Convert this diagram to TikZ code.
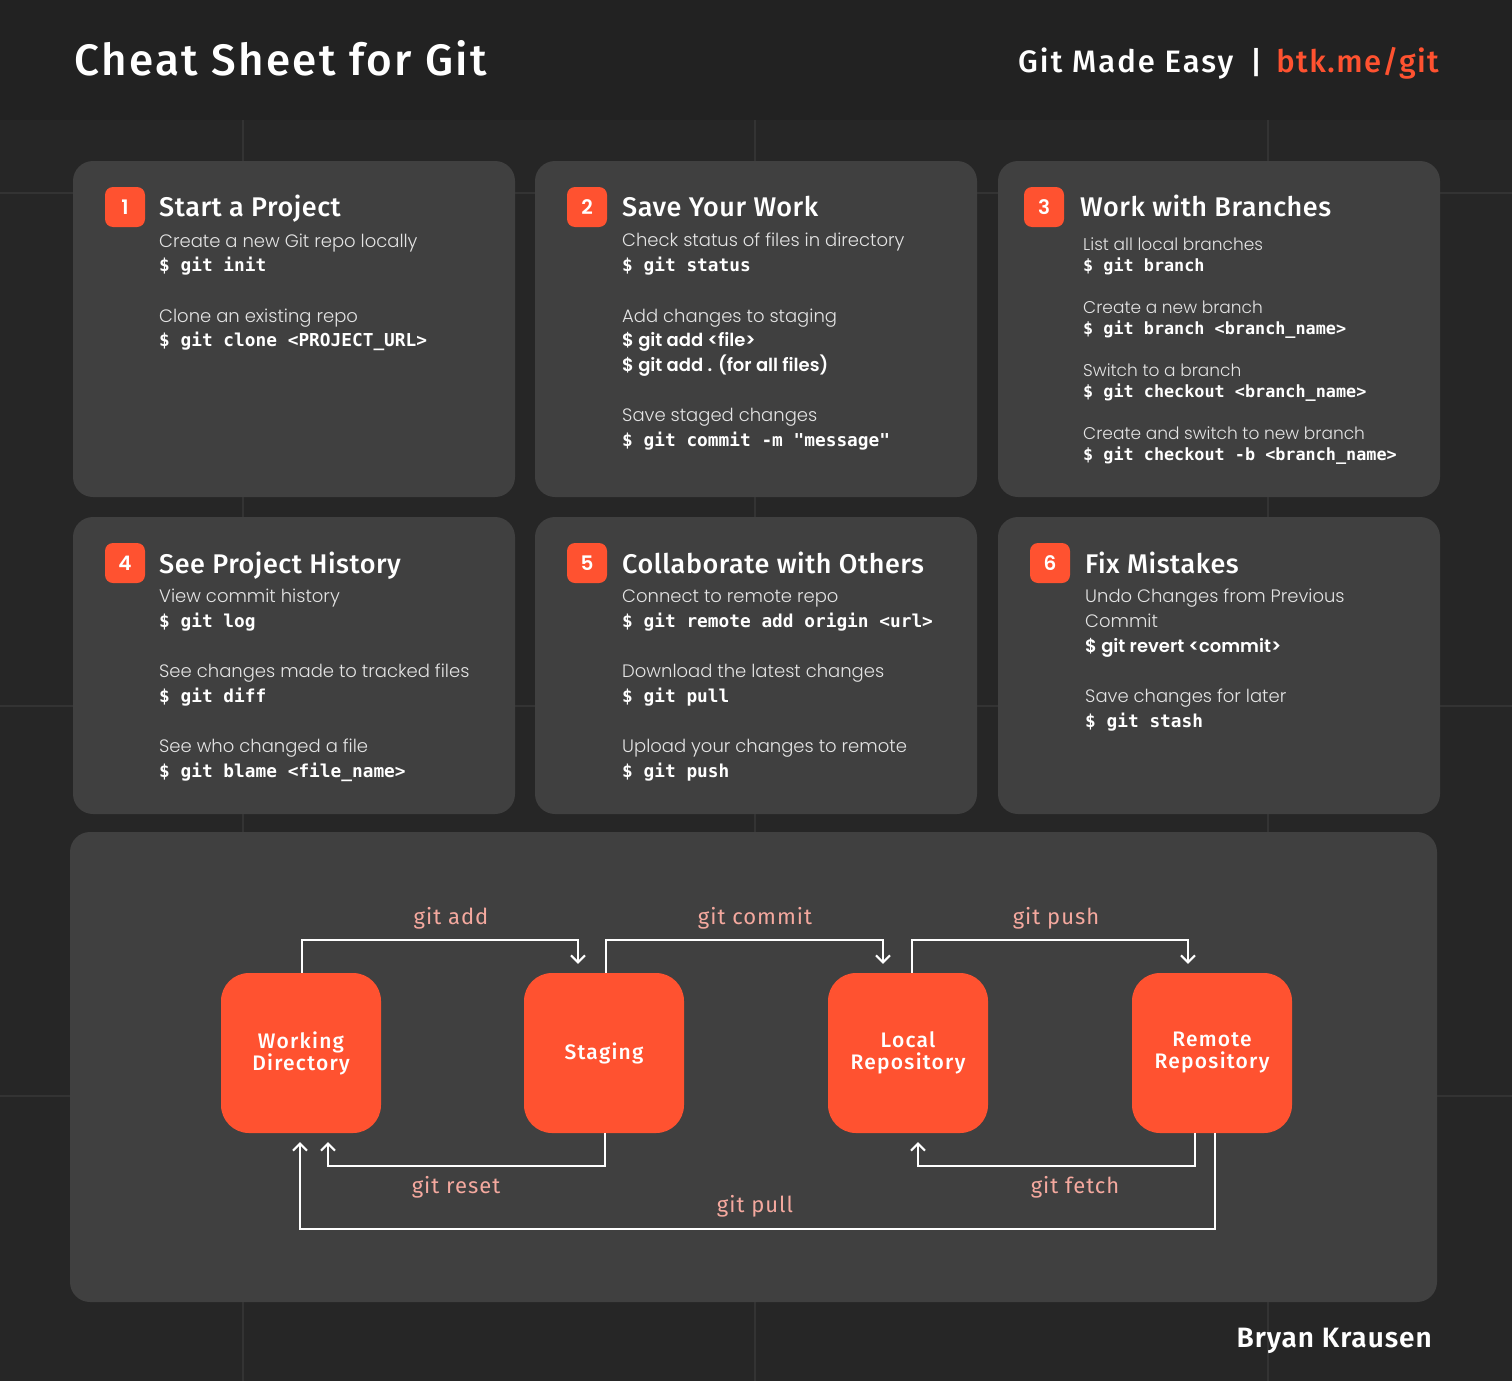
\documentclass[tikz,border=0pt]{standalone}
\usepackage{fontspec}
\usetikzlibrary{arrows.meta}
\IfFontExistsTF{Poppins Light}{\newfontfamily\descfont{Poppins Light}}{\newfontfamily\descfont{Poppins}}
\IfFontExistsTF{Poppins SemiBold}{\newfontfamily\sbfont{Poppins SemiBold}}{\newfontfamily\sbfont{Poppins}[FakeBold=1.2]}
\IfFontExistsTF{Fira Sans Medium}{%
  \newfontfamily\hfontA{Fira Sans Medium}[LetterSpace=4.5]%
  \newfontfamily\hfontM{Fira Sans Medium}[LetterSpace=5.4]%
  \newfontfamily\hfontG{Fira Sans Medium}[LetterSpace=6.5]%
  \newfontfamily\hfontT{Fira Sans Medium}[LetterSpace=2]%
  \newfontfamily\hfontB{Fira Sans Medium}[LetterSpace=6]}{%
  \newfontfamily\hfontA{Fira Sans}[LetterSpace=4.5]%
  \newfontfamily\hfontM{Fira Sans}[LetterSpace=5.4]%
  \newfontfamily\hfontG{Fira Sans}[LetterSpace=6.5]%
  \newfontfamily\hfontT{Fira Sans}[LetterSpace=2]%
  \newfontfamily\hfontB{Fira Sans}[LetterSpace=6]}
\IfFontExistsTF{Fira Sans SemiBold}{\newfontfamily\sigfont{Fira Sans SemiBold}[LetterSpace=3.5]}{\newfontfamily\sigfont{Fira Sans}[FakeBold=1,LetterSpace=3.5]}
\newfontfamily\lfont{Fira Sans}[LetterSpace=4.5]
\newfontfamily\codefont{DejaVu Sans Mono}
\definecolor{hdrbg}{HTML}{222222}
\definecolor{pagebg}{HTML}{262626}
\definecolor{gridc}{HTML}{333333}
\definecolor{cardbg}{HTML}{404040}
\definecolor{brand}{HTML}{FF5230}
\definecolor{salmon}{HTML}{F5A99F}
\definecolor{descc}{HTML}{E4E4E4}
\begin{document}
\begin{tikzpicture}[x=1pt,y=-1pt,
  card/.style={fill=cardbg, rounded corners=20pt},
  gridline/.style={draw=gridc, line width=1.5pt},
  badge/.style={fill=brand, rounded corners=8pt, minimum width=40pt, minimum height=40pt, inner sep=0pt, text=white, font=\sbfont\fontsize{20}{20}\selectfont},
  ttl/.style={anchor=base west, inner sep=0pt, text=white, font=\hfontT\fontsize{27}{30}\selectfont},
  desc/.style={anchor=base west, inner sep=0pt, text=descc, font=\descfont\fontsize{18}{22}\selectfont},
  descs/.style={desc, font=\descfont\fontsize{17}{20}\selectfont},
  code/.style={anchor=base west, inner sep=0pt, text=white, font=\codefont\bfseries\fontsize{17.8}{22}\selectfont},
  codes/.style={code, font=\codefont\bfseries\fontsize{16.8}{20}\selectfont},
  sbold/.style={anchor=base west, inner sep=0pt, text=white, font=\sbfont\fontsize{18}{22}\selectfont},
  repo/.style={fill=brand, rounded corners=28pt, minimum width=160pt, minimum height=160pt, inner sep=0pt, align=center, text=white, font=\hfontB\fontsize{21}{22}\selectfont},
  conn/.style={draw=white, line width=2pt, -{Straight Barb[length=7pt,width=14pt]}},
  lbl/.style={anchor=base, inner sep=0pt, text=salmon, font=\lfont\fontsize{22}{22}\selectfont},
  hdr/.style={inner sep=0pt, font=\hfontA\fontsize{31}{31}\selectfont}
]
\useasboundingbox (0,0) rectangle (1512,1381);
% background
\fill[pagebg] (0,0) rectangle (1512,1381);
\fill[hdrbg] (0,0) rectangle (1512,120);
% grid
\draw[gridline] (243,120) -- (243,1381);
\draw[gridline] (755,120) -- (755,1381);
\draw[gridline] (1268,120) -- (1268,1381);
\draw[gridline] (0,193) -- (1512,193);
\draw[gridline] (0,706) -- (1512,706);
\draw[gridline] (0,1096) -- (1512,1096);
% header
\node[anchor=base west, inner sep=0pt, text=white, font=\hfontM\fontsize{44}{44}\selectfont] (title) at (74,76) {Cheat Sheet for Git};
\node[hdr, anchor=base west, text=white, font=\hfontG\fontsize{31}{31}\selectfont] (gme) at (1018,72) {Git Made Easy};
\node[hdr, anchor=base, text=white] (bar) at (1256,74) {|};
\node[hdr, anchor=base east, text=brand] (url) at (1439,72) {btk.me/git};
% cards
\fill[card] (73,161) rectangle (515,497);
\fill[card] (535,161) rectangle (977,497);
\fill[card] (998,161) rectangle (1440,497);
\fill[card] (73,517) rectangle (515,814);
\fill[card] (535,517) rectangle (977,814);
\fill[card] (998,517) rectangle (1440,814);
% card 1
\node[badge] (b1) at (125,207) {1};
\node[ttl] (t1) at (159,216) {Start a Project};
\node[desc] (d1a) at (159,247) {Create a new Git repo locally};
\node[code] (c1a) at (159,271) {\$ git init};
\node[desc] (d1b) at (159,322) {Clone an existing repo};
\node[code] (c1b) at (159,346) {\$ git clone <PROJECT\_URL>};
% card 2
\node[badge] (b2) at (587,207) {2};
\node[ttl] (t2) at (622,216) {Save Your Work};
\node[desc] (d2a) at (622,246) {Check status of files in directory};
\node[code] (c2a) at (622,271) {\$ git status};
\node[desc] (d2b) at (622,322) {Add changes to staging};
\node[sbold] (s2a) at (622,346) {\$ git add <file>};
\node[sbold] (s2b) at (622,371) {\$ git add . (for all files)};
\node[desc] (d2c) at (622,421) {Save staged changes};
\node[code] (c2c) at (622,446) {\$ git commit -m "message"};
% card 3
\node[badge] (b3) at (1044,207) {3};
\node[ttl] (t3) at (1080,216) {Work with Branches};
\node[descs] (d3a) at (1083,250) {List all local branches};
\node[codes] (c3a) at (1083,271) {\$ git branch};
\node[descs] (d3b) at (1083,313) {Create a new branch};
\node[codes] (c3b) at (1083,334) {\$ git branch <branch\_name>};
\node[descs] (d3c) at (1083,376) {Switch to a branch};
\node[codes] (c3c) at (1083,397) {\$ git checkout <branch\_name>};
\node[descs] (d3d) at (1083,439) {Create and switch to new branch};
\node[codes] (c3d) at (1083,460) {\$ git checkout -b <branch\_name>};
% card 4
\node[badge] (b4) at (125,563) {4};
\node[ttl] (t4) at (159,573) {See Project History};
\node[desc] (d4a) at (159,602) {View commit history};
\node[code] (c4a) at (159,627) {\$ git log};
\node[desc] (d4b) at (159,677) {See changes made to tracked files};
\node[code] (c4b) at (159,702) {\$ git diff};
\node[desc] (d4c) at (159,752) {See who changed a file};
\node[code] (c4c) at (159,777) {\$ git blame <file\_name>};
% card 5
\node[badge] (b5) at (587,563) {5};
\node[ttl] (t5) at (622,573) {Collaborate with Others};
\node[desc] (d5a) at (622,602) {Connect to remote repo};
\node[code] (c5a) at (622,627) {\$ git remote add origin <url>};
\node[desc] (d5b) at (622,677) {Download the latest changes};
\node[code] (c5b) at (622,702) {\$ git pull};
\node[desc] (d5c) at (622,752) {Upload your changes to remote};
\node[code] (c5c) at (622,777) {\$ git push};
% card 6
\node[badge] (b6) at (1050,563) {6};
\node[ttl] (t6) at (1085,573) {Fix Mistakes};
\node[desc] (d6a) at (1085,602) {Undo Changes from Previous};
\node[desc] (d6b) at (1085,627) {Commit};
\node[sbold] (s6a) at (1085,652) {\$ git revert <commit>};
\node[desc] (d6c) at (1085,702) {Save changes for later};
\node[code] (c6a) at (1085,727) {\$ git stash};
% diagram panel
\fill[card] (70,832) rectangle (1437,1302);
\node[repo] (wd) at (301,1053) {Working\\Directory};
\node[repo] (st) at (604,1053) {Staging};
\node[repo] (lr) at (908,1053) {Local\\Repository};
\node[repo] (rr) at (1212,1053) {Remote\\Repository};
% connectors
\draw[conn] ([xshift=1pt]wd.north) |- ([xshift=-26pt,yshift=33pt]st.north) -- ([xshift=-26pt,yshift=9pt]st.north);
\draw[conn] ([xshift=2pt]st.north) |- ([xshift=-25pt,yshift=33pt]lr.north) -- ([xshift=-25pt,yshift=9pt]lr.north);
\draw[conn] ([xshift=4pt]lr.north) |- ([xshift=-24pt,yshift=33pt]rr.north) -- ([xshift=-24pt,yshift=9pt]rr.north);
\draw[conn] ([xshift=1pt]st.south) |- ([xshift=27pt,yshift=-33pt]wd.south) -- ([xshift=27pt,yshift=-9pt]wd.south);
\draw[conn] ([xshift=-17pt]rr.south) |- ([xshift=10pt,yshift=-33pt]lr.south) -- ([xshift=10pt,yshift=-9pt]lr.south);
\draw[conn] ([xshift=3pt]rr.south) |- ([xshift=-1pt,yshift=-96pt]wd.south) -- ([xshift=-1pt,yshift=-9pt]wd.south);
% labels
\node[lbl] (ladd) at (451,924) {git add};
\node[lbl] (lcommit) at (755,924) {git commit};
\node[lbl] (lpush) at (1056,924) {git push};
\node[lbl] (lreset) at (456,1193) {git reset};
\node[lbl] (lfetch) at (1075,1193) {git fetch};
\node[lbl] (lpull) at (755,1212) {git pull};
% signature
\node[anchor=base east, inner sep=0pt, text=white, font=\sigfont\fontsize{28}{28}\selectfont] (sig) at (1432,1347) {Bryan Krausen};
\end{tikzpicture}
\end{document}
